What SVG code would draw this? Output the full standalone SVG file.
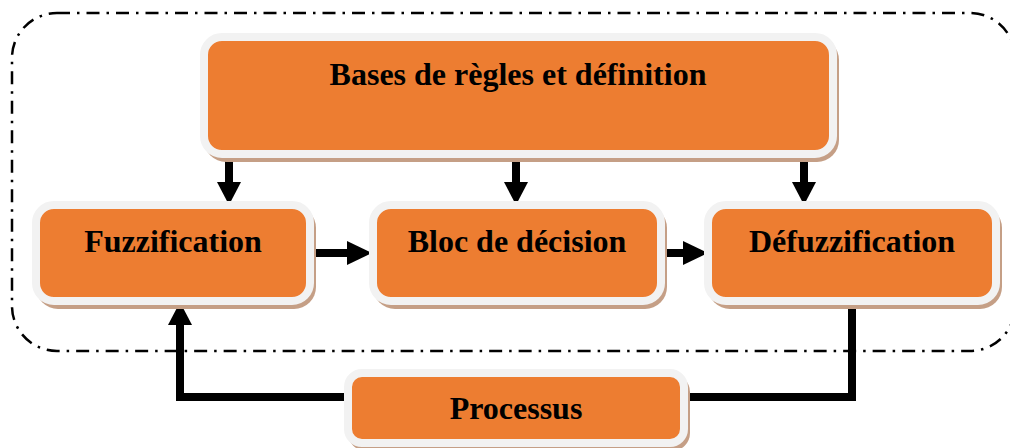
<svg xmlns="http://www.w3.org/2000/svg" width="1010" height="448" viewBox="0 0 1010 448">
<style>
.shadow{fill:#c59f86}
.box{fill:#ed7d31;stroke:#f2f2f2;stroke-width:8}
.lbl{font-family:"Liberation Serif","Times New Roman",serif;font-weight:bold;font-size:32px;fill:#000;text-anchor:middle}
.ln{fill:none;stroke:#000;stroke-width:8}
.hd{fill:#000}
</style>
<rect x="12" y="13" width="1003" height="338" rx="45" fill="none" stroke="#000" stroke-width="2.5" stroke-dasharray="13 7 2.5 7"/>
<g id="connectors">
<line class="ln" x1="229" y1="154" x2="229" y2="184"/><polygon class="hd" points="217,182 241,182 229,205"/>
<line class="ln" x1="516" y1="154" x2="516" y2="184"/><polygon class="hd" points="504,182 528,182 516,205"/>
<line class="ln" x1="804" y1="154" x2="804" y2="184"/><polygon class="hd" points="792,182 816,182 804,205"/>
<line class="ln" x1="311" y1="253" x2="349" y2="253"/><polygon class="hd" points="347,241 347,265 372,253"/>
<line class="ln" x1="660" y1="253" x2="685" y2="253"/><polygon class="hd" points="683,241 683,265 708,253"/>
<polyline class="ln" points="852,301 852,397 688,397"/>
<polyline class="ln" points="345,397 180,397 180,323"/><polygon class="hd" points="168,325 192,325 180,302"/>
</g>
<g id="bases">
<rect class="shadow" x="204" y="38" width="635" height="124" rx="22"/>
<rect class="box" x="204" y="37" width="629" height="117" rx="18"/>
<text class="lbl" x="518" y="85">Bases de règles et définition</text>
</g>
<g id="fuzzification">
<rect class="shadow" x="36" y="206" width="280" height="103" rx="22"/>
<rect class="box" x="36" y="205" width="274" height="96" rx="18"/>
<text class="lbl" x="173" y="252">Fuzzification</text>
</g>
<g id="bloc">
<rect class="shadow" x="373" y="206" width="294" height="103" rx="22"/>
<rect class="box" x="373" y="205" width="288" height="96" rx="18"/>
<text class="lbl" x="517" y="252">Bloc de décision</text>
</g>
<g id="defuzzification">
<rect class="shadow" x="708" y="206" width="294" height="103" rx="22"/>
<rect class="box" x="708" y="205" width="288" height="96" rx="18"/>
<text class="lbl" x="852" y="252">Défuzzification</text>
</g>
<g id="processus">
<rect class="shadow" x="348" y="374" width="342" height="77" rx="18"/>
<rect class="box" x="348" y="373" width="336" height="70" rx="14"/>
<text class="lbl" x="516" y="419">Processus</text>
</g>
</svg>
